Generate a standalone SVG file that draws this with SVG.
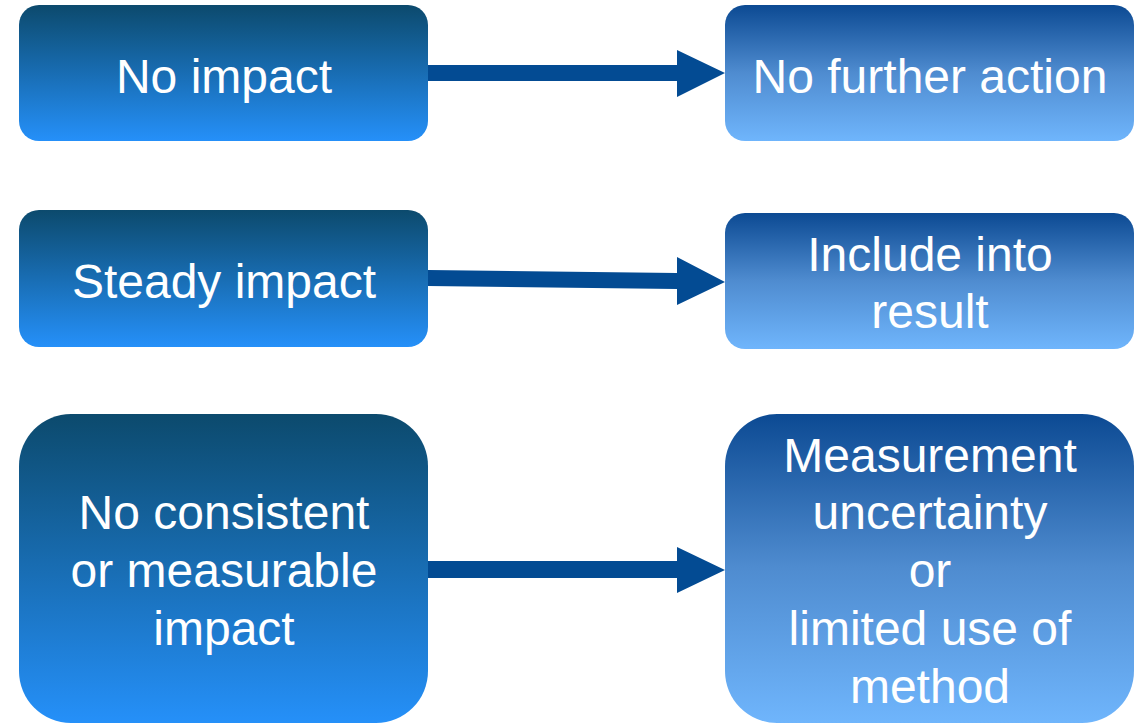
<svg xmlns="http://www.w3.org/2000/svg" width="1144" height="723" viewBox="0 0 1144 723">
<style>
text{font-family:"Liberation Sans",Arial,sans-serif;font-size:48px;fill:#fff;text-anchor:middle}
.arrow{fill:#034b93}
</style>
<defs>
<linearGradient id="gl" x1="0" y1="0" x2="0" y2="1">
<stop offset="0" stop-color="#0c4a6d"/>
<stop offset="1" stop-color="#2590f9"/>
</linearGradient>
<linearGradient id="gr" x1="0" y1="0" x2="0" y2="1">
<stop offset="0" stop-color="#0c4a93"/>
<stop offset="0.5" stop-color="#4f8cd0"/>
<stop offset="1" stop-color="#6fb5fc"/>
</linearGradient>
</defs>
<rect width="1144" height="723" fill="#fff"/>
<g id="connectors">
<polygon class="arrow" points="428,65 677,65 677,50 725,73 677,97 677,81 428,81"/>
<polygon class="arrow" points="428,270 677,273 677,257 725,282 677,305 677,289 428,286"/>
<polygon class="arrow" points="428,561 677,561 677,547 725,570 677,593 677,578 428,578"/>
</g>
<g id="n1"><rect x="19" y="5" width="409" height="136" rx="20" fill="url(#gl)"/><text x="224" y="93">No impact</text></g>
<g id="n2"><rect x="725" y="5" width="409" height="136" rx="20" fill="url(#gr)"/><text x="930" y="93">No further action</text></g>
<g id="n3"><rect x="19" y="210" width="409" height="137" rx="20" fill="url(#gl)"/><text x="224" y="298">Steady impact</text></g>
<g id="n4"><rect x="725" y="213" width="409" height="136" rx="20" fill="url(#gr)"/><text x="930" y="271">Include into</text><text x="930" y="328">result</text></g>
<g id="n5"><rect x="19" y="414" width="409" height="309" rx="52" fill="url(#gl)"/><text x="224" y="529">No consistent</text><text x="224" y="587">or measurable</text><text x="224" y="645">impact</text></g>
<g id="n6"><rect x="725" y="414" width="409" height="309" rx="52" fill="url(#gr)"/><text x="930" y="472">Measurement</text><text x="930" y="529">uncertainty</text><text x="930" y="587">or</text><text x="930" y="645">limited use of</text><text x="930" y="703">method</text></g>
</svg>
